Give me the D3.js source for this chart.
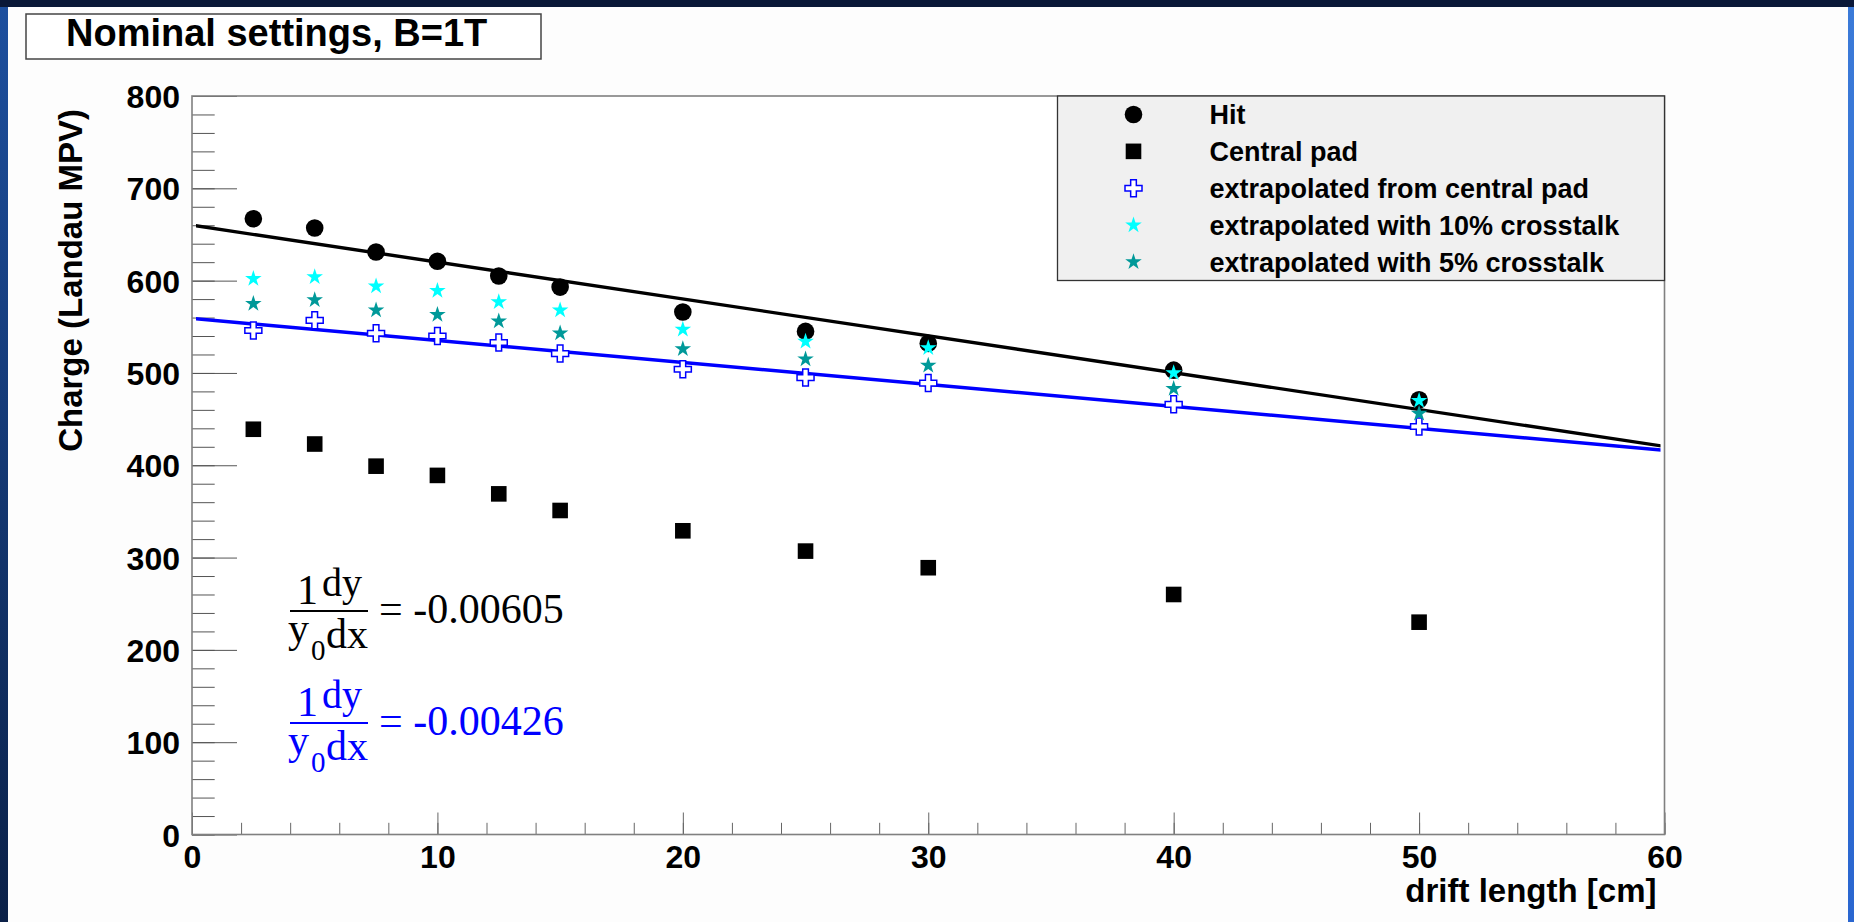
<!DOCTYPE html>
<html>
<head>
<meta charset="utf-8">
<script src="https://cdn.jsdelivr.net/npm/d3@7"></script>
<style>
  body { margin: 0; overflow: hidden; background: #0a1838; }
  svg { display: block; }
</style>
</head>
<body>
<div id="chart"></div>
<script>
// values
const driftLength = [2.5, 5, 7.5, 10, 12.5, 15, 20, 25, 30, 40, 50]
const hit = [667, 657, 631, 621, 605, 593, 566, 545, 532, 503, 471]
const centralPad = [439, 423, 399, 389, 369, 351, 329, 307, 289, 260, 230]
const extrapCentral = [546, 557, 543, 540, 533, 521, 504, 495, 489, 466, 442]
const extrap10 = [602, 604, 594, 589, 577, 568, 547, 534, 527, 500, 470]
const extrap5 = [575, 579, 568, 563, 556, 543, 526, 515, 508, 483, 456]

// fit: y = p0 * (1 + slope * x), slope = (1/y0) dy/dx
const fitHit = [660, -0.00605]
const fitCentral = [559, -0.00426]
const fitRange = [0, 60]

const xTicks = [0, 10, 20, 30, 40, 50, 60]
const yTicks = [0, 100, 200, 300, 400, 500, 600, 700, 800]
const legendLabels = ['Hit', 'Central pad', 'extrapolated from central pad',
    'extrapolated with 10% crosstalk', 'extrapolated with 5% crosstalk']

const W = 1854
const H = 922
const pLeft = 192, pRight = 1664.5, pTop = 96, pBottom = 834.5

const sans = "'Liberation Sans', Arial, Helvetica, sans-serif"
const serif = "'Liberation Serif', 'Times New Roman', serif"

const svg = d3.select('#chart')
    .append('svg')
    .attr('width', W)
    .attr('height', H)

// slide background
const defs = svg.append('defs')
const gl = defs.append('linearGradient').attr('id', 'leftEdge')
    .attr('x1', 0).attr('y1', 0).attr('x2', 0).attr('y2', 1)
gl.append('stop').attr('offset', '0%').attr('stop-color', '#1d4f9e')
gl.append('stop').attr('offset', '100%').attr('stop-color', '#0b2148')
const gr = defs.append('linearGradient').attr('id', 'rightEdge')
    .attr('x1', 0).attr('y1', 0).attr('x2', 0).attr('y2', 1)
gr.append('stop').attr('offset', '0%').attr('stop-color', '#3b7ad8')
gr.append('stop').attr('offset', '100%').attr('stop-color', '#2a66d0')

svg.append('rect').attr('width', W).attr('height', H).attr('fill', '#0a1838')
svg.append('rect').attr('x', 0).attr('y', 7).attr('width', 8).attr('height', H - 7).attr('fill', 'url(#leftEdge)')
svg.append('rect').attr('x', 1848).attr('y', 7).attr('width', 6).attr('height', H - 7).attr('fill', 'url(#rightEdge)')
svg.append('rect').attr('x', 8).attr('y', 7).attr('width', 1840).attr('height', H - 7).attr('fill', '#fdfdfd')

defs.append('clipPath').attr('id', 'plotClip')
    .append('rect')
    .attr('x', pLeft + 4).attr('y', pTop)
    .attr('width', pRight - pLeft - 8).attr('height', pBottom - pTop)

// scales
const x = d3.scaleLinear().domain([0, 60]).range([pLeft, pRight])
const y = d3.scaleLinear().domain([0, 800]).range([pBottom, pTop])

svg.append('rect')
    .attr('x', pLeft).attr('y', pTop)
    .attr('width', pRight - pLeft).attr('height', pBottom - pTop)
    .attr('fill', '#ffffff')

// axes, ROOT style ticks pointing inward
const xMinor = d3.range(0, 61, 2)
const yMinor = d3.range(0, 801, 20)

svg.append('g')
    .attr('transform', `translate(0,${pBottom})`)
    .call(d3.axisBottom(x).tickValues(xMinor).tickSize(-11.7).tickFormat(''))
    .call(g => g.select('.domain').remove())
    .attr('color', '#666')

svg.append('g')
    .attr('transform', `translate(0,${pBottom})`)
    .call(d3.axisBottom(x).tickValues(xTicks).tickSize(-22).tickPadding(11).tickFormat(d3.format('d')))
    .call(g => g.select('.domain').remove())
    .attr('color', '#666')
    .attr('font-family', sans)
    .attr('font-size', 32)
    .attr('font-weight', 'bold')
    .selectAll('text').attr('fill', '#000')

svg.append('g')
    .attr('transform', `translate(${pLeft},0)`)
    .call(d3.axisLeft(y).tickValues(yMinor).tickSize(-22.7).tickFormat(''))
    .call(g => g.select('.domain').remove())
    .attr('color', '#555')

svg.append('g')
    .attr('transform', `translate(${pLeft},0)`)
    .call(d3.axisLeft(y).tickValues(yTicks).tickSize(-45).tickPadding(12).tickFormat(d3.format('d')))
    .call(g => g.select('.domain').remove())
    .attr('color', '#555')
    .attr('font-family', sans)
    .attr('font-size', 32)
    .attr('font-weight', 'bold')
    .selectAll('text').attr('fill', '#000').attr('dy', '0.36em')

// frame
svg.append('rect')
    .attr('x', pLeft).attr('y', pTop)
    .attr('width', pRight - pLeft).attr('height', pBottom - pTop)
    .attr('fill', 'none')
    .attr('stroke', '#808080')
    .attr('stroke-width', 1.6)

// axis titles
svg.append('text')
    .attr('x', pRight - 8).attr('y', 902)
    .attr('text-anchor', 'end')
    .attr('font-family', sans).attr('font-size', 33).attr('font-weight', 'bold')
    .text('drift length [cm]')

svg.append('text')
    .attr('transform', `translate(82,${pTop + 13}) rotate(-90)`)
    .attr('text-anchor', 'end')
    .attr('font-family', sans).attr('font-size', 33).attr('font-weight', 'bold')
    .text('Charge (Landau MPV)')

// fit lines
const fitLine = d3.line().x(d => x(d[0])).y(d => y(d[1]))
const fits = [[fitHit, '#000000'], [fitCentral, '#0000ff']]
svg.append('g').attr('clip-path', 'url(#plotClip)')
    .selectAll('path')
    .data(fits)
    .enter()
    .append('path')
    .attr('d', f => fitLine(fitRange.map(v => [v, f[0][0] * (1 + f[0][1] * v)])))
    .attr('fill', 'none')
    .attr('stroke', f => f[1])
    .attr('stroke-width', 3.4)

// markers
const crossPath = s => {
    const a = s / 2, b = s / 6
    return `M${-b},${-a}H${b}V${-b}H${a}V${b}H${b}V${a}H${-b}V${b}H${-a}V${-b}H${-b}Z`
}
const starPath = d3.symbol().type(d3.symbolStar).size(85)()

const series = [
    { values: hit, kind: 'circle', color: '#000' },
    { values: centralPad, kind: 'square', color: '#000' },
    { values: extrapCentral, kind: 'cross', color: '#0000ff' },
    { values: extrap10, kind: 'star', color: '#00ffff' },
    { values: extrap5, kind: 'star', color: '#009999' }
]

function drawMarker(g, kind, color) {
    if (kind === 'circle') {
        g.append('circle').attr('r', 8.8).attr('fill', color)
    } else if (kind === 'square') {
        g.append('rect').attr('x', -7.8).attr('y', -7.8).attr('width', 15.6).attr('height', 15.6).attr('fill', color)
    } else if (kind === 'cross') {
        g.append('path').attr('d', crossPath(17)).attr('fill', '#fff').attr('stroke', color).attr('stroke-width', 1.5)
    } else {
        g.append('path').attr('d', starPath).attr('fill', color)
    }
}

series.forEach(s => {
    svg.append('g')
        .selectAll('g')
        .data(s.values)
        .enter()
        .append('g')
        .attr('transform', (d, i) => `translate(${x(driftLength[i])},${y(d)})`)
        .each(function () { drawMarker(d3.select(this), s.kind, s.color) })
})

// legend
const legX = 1057.5, legY = 96, legW = pRight - legX, legH = 184.5
const rowH = legH / legendLabels.length
svg.append('rect')
    .attr('x', legX).attr('y', legY).attr('width', legW).attr('height', legH)
    .attr('fill', '#f0f0f0').attr('stroke', '#333').attr('stroke-width', 1.3)

const rows = svg.append('g')
    .selectAll('g')
    .data(legendLabels)
    .enter()
    .append('g')
    .attr('transform', (d, i) => `translate(${legX},${legY + rowH * (i + 0.5)})`)

rows.each(function (d, i) {
    const m = d3.select(this).append('g').attr('transform', 'translate(76,0)')
    drawMarker(m, series[i].kind, series[i].color)
})
rows.append('text')
    .attr('x', 152).attr('y', 10)
    .attr('font-family', sans).attr('font-size', 27).attr('font-weight', 'bold')
    .text(d => d)

// title box
svg.append('rect')
    .attr('x', 26).attr('y', 14).attr('width', 515).attr('height', 45)
    .attr('fill', '#fff').attr('stroke', '#444').attr('stroke-width', 1.5)
svg.append('text')
    .attr('x', 66).attr('y', 46)
    .attr('font-family', sans).attr('font-size', 38).attr('font-weight', 'bold')
    .text('Nominal settings, B=1T')

// slope formulas
const formulas = [[fitHit, 623, '#000000'], [fitCentral, 735, '#0000ff']]
formulas.forEach(f => {
    const g = svg.append('g')
        .attr('transform', `translate(0,${f[1]})`)
        .attr('fill', f[2])
        .attr('font-family', serif)
    g.append('text').attr('x', 297).attr('y', -19).attr('font-size', 42).text('1')
    g.append('text').attr('x', 322).attr('y', -27).attr('font-size', 40).text('dy')
    g.append('line').attr('x1', 290).attr('x2', 368).attr('y1', -12).attr('y2', -12)
        .attr('stroke', f[2]).attr('stroke-width', 2)
    g.append('text').attr('x', 288).attr('y', 19).attr('font-size', 42).text('y')
    g.append('text').attr('x', 311).attr('y', 37).attr('font-size', 29).text('0')
    g.append('text').attr('x', 326).attr('y', 25).attr('font-size', 42).text('dx')
    g.append('text').attr('x', 379).attr('y', 0).attr('font-size', 42)
        .text('= ' + d3.format('.5f')(f[0][1]).replace('−', '-'))
})
</script>
</body>
</html>
